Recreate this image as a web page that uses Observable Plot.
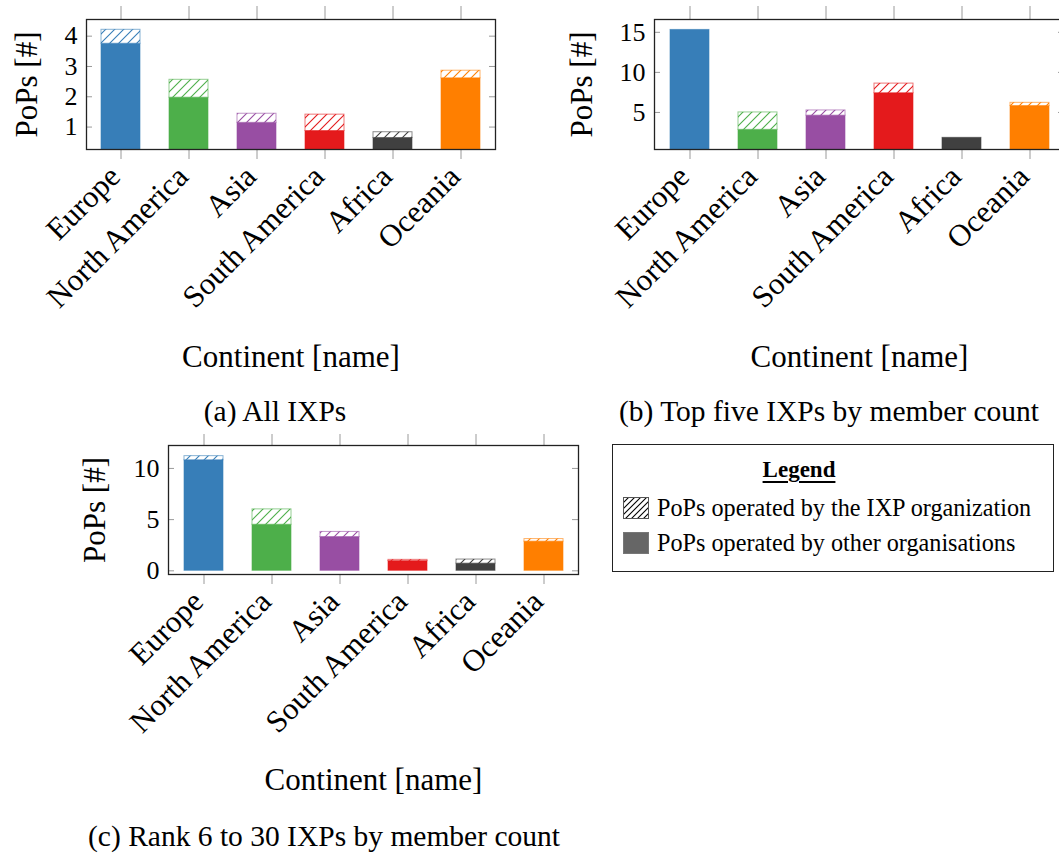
<!DOCTYPE html>
<html>
<head>
<meta charset="utf-8">
<script src="https://cdn.jsdelivr.net/npm/d3@7"></script>
<script src="https://cdn.jsdelivr.net/npm/@observablehq/plot@0.6"></script>
<style>
html, body { margin: 0; padding: 0; background: #fff; overflow: hidden; }
#page { position: relative; width: 1059px; height: 854px; font-family: "Liberation Serif", serif; color: #000; overflow: hidden; }
.panel { position: absolute; }
.panel text { font-family: "Liberation Serif", serif !important; }
.caption { position: absolute; font-size: 29.5px; transform: translate(-50%, -50%); white-space: nowrap; }
#legend { position: absolute; left: 612px; top: 444px; width: 442px; height: 128px; border: 1.3px solid #222; box-sizing: border-box; background: #fff; }
#legend .title { position: absolute; left: 0; width: 372px; top: 12px; text-align: center; font-weight: bold; font-size: 23px; }
#legend .title span { text-decoration: underline; text-underline-offset: 4px; }
#legend .row { position: absolute; left: 10px; height: 24px; display: flex; align-items: center; font-size: 24.2px; white-space: nowrap; }
#legend .row svg { margin-right: 8px; }
</style>
</head>
<body>
<div id="page"></div>
<script>
// ---- data ----
const continents = ["Europe", "North America", "Asia", "South America", "Africa", "Oceania"];
const colors = ["#377eb8", "#4daf4a", "#984ea3", "#e41a1c", "#404040", "#ff7f00"];

// (a) All IXPs
const allOther = [3.75, 1.97, 1.14, 0.87, 0.64, 2.61];
const allIxp   = [0.46, 0.59, 0.30, 0.54, 0.19, 0.25];
// (b) Top five IXPs by member count
const topOther = [15.3, 2.83, 4.6, 7.4, 1.83, 5.8];
const topIxp   = [0, 2.17, 0.65, 1.2, 0, 0.4];
// (c) Rank 6 to 30 IXPs by member count
const rankOther = [10.8, 4.5, 3.3, 0.95, 0.7, 2.85];
const rankIxp   = [0.4, 1.5, 0.5, 0.12, 0.4, 0.25];

const yTicksA = [1, 2, 3, 4];
const yTicksB = [5, 10, 15];
const yTicksC = [0, 5, 10];

const captionA = "(a) All IXPs";
const captionB = "(b) Top five IXPs by member count";
const captionC = "(c) Rank 6 to 30 IXPs by member count";
const yLabel = "PoPs [#]";
const xLabel = "Continent [name]";
const legendTitle = "Legend";
const legendIxp = "PoPs operated by the IXP organization";
const legendOther = "PoPs operated by other organisations";

const FONT = "Liberation Serif";

// ---- hatch patterns ----
const defs = d3.select("body").append("svg")
  .attr("width", 0).attr("height", 0)
  .style("position", "absolute").append("defs");
function addHatch(id, color, size, sw) {
  const pat = defs.append("pattern").attr("id", id)
    .attr("patternUnits", "userSpaceOnUse")
    .attr("width", size).attr("height", size);
  pat.append("rect").attr("width", size).attr("height", size).attr("fill", "#fff");
  pat.append("path")
    .attr("d", `M-1,1 L1,-1 M0,${size} L${size},0 M${size - 1},${size + 1} L${size + 1},${size - 1}`)
    .attr("stroke", color).attr("stroke-width", sw);
}
colors.forEach((c, i) => addHatch("hatch" + i, c, 9, 1.1));
addHatch("hatchK", "#000", 6, 1.1);

function rows(other, ixp) {
  const out = [];
  continents.forEach((c, i) => {
    out.push({continent: c, part: "other", value: other[i], i});
    out.push({continent: c, part: "ixp", value: ixp[i], i});
  });
  return out;
}

const page = document.getElementById("page");

function makePanel(p) {
  const fw = p.width - p.ml - p.mr;
  const data = rows(p.other, p.ixp);
  const chart = Plot.plot({
    width: p.width, height: p.height,
    marginLeft: p.ml, marginRight: p.mr, marginTop: p.mt, marginBottom: p.mb,
    style: {fontFamily: FONT, fontSize: "26px", background: "transparent", color: "#000", overflow: "visible"},
    x: {type: "band", domain: continents, paddingInner: 0.43, paddingOuter: 0.215, axis: null},
    y: {domain: p.yDomain, axis: null},
    marks: [
      Plot.barY(data, {
        x: "continent", y: "value",
        filter: d => d.value > 0,
        fill: {value: d => d.part === "other" ? colors[d.i] : `url(#hatch${d.i})`, scale: null},
        stroke: {value: d => colors[d.i], scale: null},
        strokeOpacity: 0.6, strokeWidth: 1, clip: true
      }),
      Plot.tickY(p.yTicks, {y: d => d, stroke: "#9a9a9a", insetRight: fw - 6}),
      Plot.tickY(p.yTicks, {y: d => d, stroke: "#9a9a9a", insetLeft: fw - 6}),
      Plot.axisY({ticks: p.yTicks, tickSize: 0, tickPadding: 9, fontSize: 26, fontFamily: FONT, tickFormat: d => String(d), label: null}),
      Plot.axisX({anchor: "top", tickSize: p.topTick, tickFormat: () => "", stroke: "#9a9a9a", label: null}),
      Plot.axisX({anchor: "bottom", tickSize: 10, tickFormat: () => "", stroke: "#9a9a9a", label: null}),
      Plot.axisX({anchor: "bottom", tickSize: 0, tickPadding: 22, dx: -6, tickRotate: -45, fill: "#000", fontSize: 31, fontFamily: FONT, label: null}),
      Plot.frame({stroke: "#222", strokeWidth: 1.3}),
      Plot.text([yLabel], {frameAnchor: "left", textAnchor: "middle", lineAnchor: "middle", dx: p.ylabelDx, rotate: -90, fontSize: 31, fontFamily: FONT, text: d => d, fill: "#000"}),
      Plot.text([xLabel], {frameAnchor: "bottom", textAnchor: "middle", lineAnchor: "middle", dy: p.xlabelDy, fontSize: 31, fontFamily: FONT, text: d => d, fill: "#000"})
    ]
  });
  chart.classList.add("panel");
  chart.style.left = p.left + "px";
  chart.style.top = p.top + "px";
  chart.style.fontFamily = `"${FONT}", serif`;
  chart.querySelectorAll("text").forEach(t => t.style.fontFamily = `"${FONT}", serif`);
  page.appendChild(chart);
}

makePanel({other: allOther, ixp: allIxp, yDomain: [0.26, 4.55], yTicks: yTicksA, topTick: 14,
  left: 0, top: 0, width: 540, height: 380, ml: 86, mr: 45, mt: 19, mb: 231, ylabelDx: -59, xlabelDy: 208});
makePanel({other: topOther, ixp: topIxp, yDomain: [0.375, 16.6], yTicks: yTicksB, topTick: 14,
  left: 540, top: 0, width: 525, height: 380, ml: 114, mr: 1, mt: 19, mb: 231, ylabelDx: -72, xlabelDy: 208});
makePanel({other: rankOther, ixp: rankIxp, yDomain: [-0.36, 12.24], yTicks: yTicksC, topTick: 12,
  left: 0, top: 430, width: 600, height: 370, ml: 168, mr: 22, mt: 15, mb: 226, ylabelDx: -73, xlabelDy: 206});

function caption(text, x, y) {
  const d = document.createElement("div");
  d.className = "caption";
  d.textContent = text;
  d.style.left = x + "px";
  d.style.top = y + "px";
  page.appendChild(d);
}
caption(captionA, 275, 411);
caption(captionB, 829, 411);
caption(captionC, 324, 836);

// legend
const lg = document.createElement("div");
lg.id = "legend";
lg.innerHTML = `<div class="title"><span></span></div>
<div class="row" style="top:51px"><svg width="26" height="22"><rect x="0.5" y="0.5" width="25" height="21" fill="url(#hatchK)" stroke="#555"/></svg><span class="t1"></span></div>
<div class="row" style="top:86px"><svg width="26" height="22"><rect x="0.5" y="0.5" width="25" height="21" fill="#666" stroke="#777"/></svg><span class="t2"></span></div>`;
lg.querySelector(".title span").textContent = legendTitle;
lg.querySelector(".t1").textContent = legendIxp;
lg.querySelector(".t2").textContent = legendOther;
page.appendChild(lg);
</script>
</body>
</html>
